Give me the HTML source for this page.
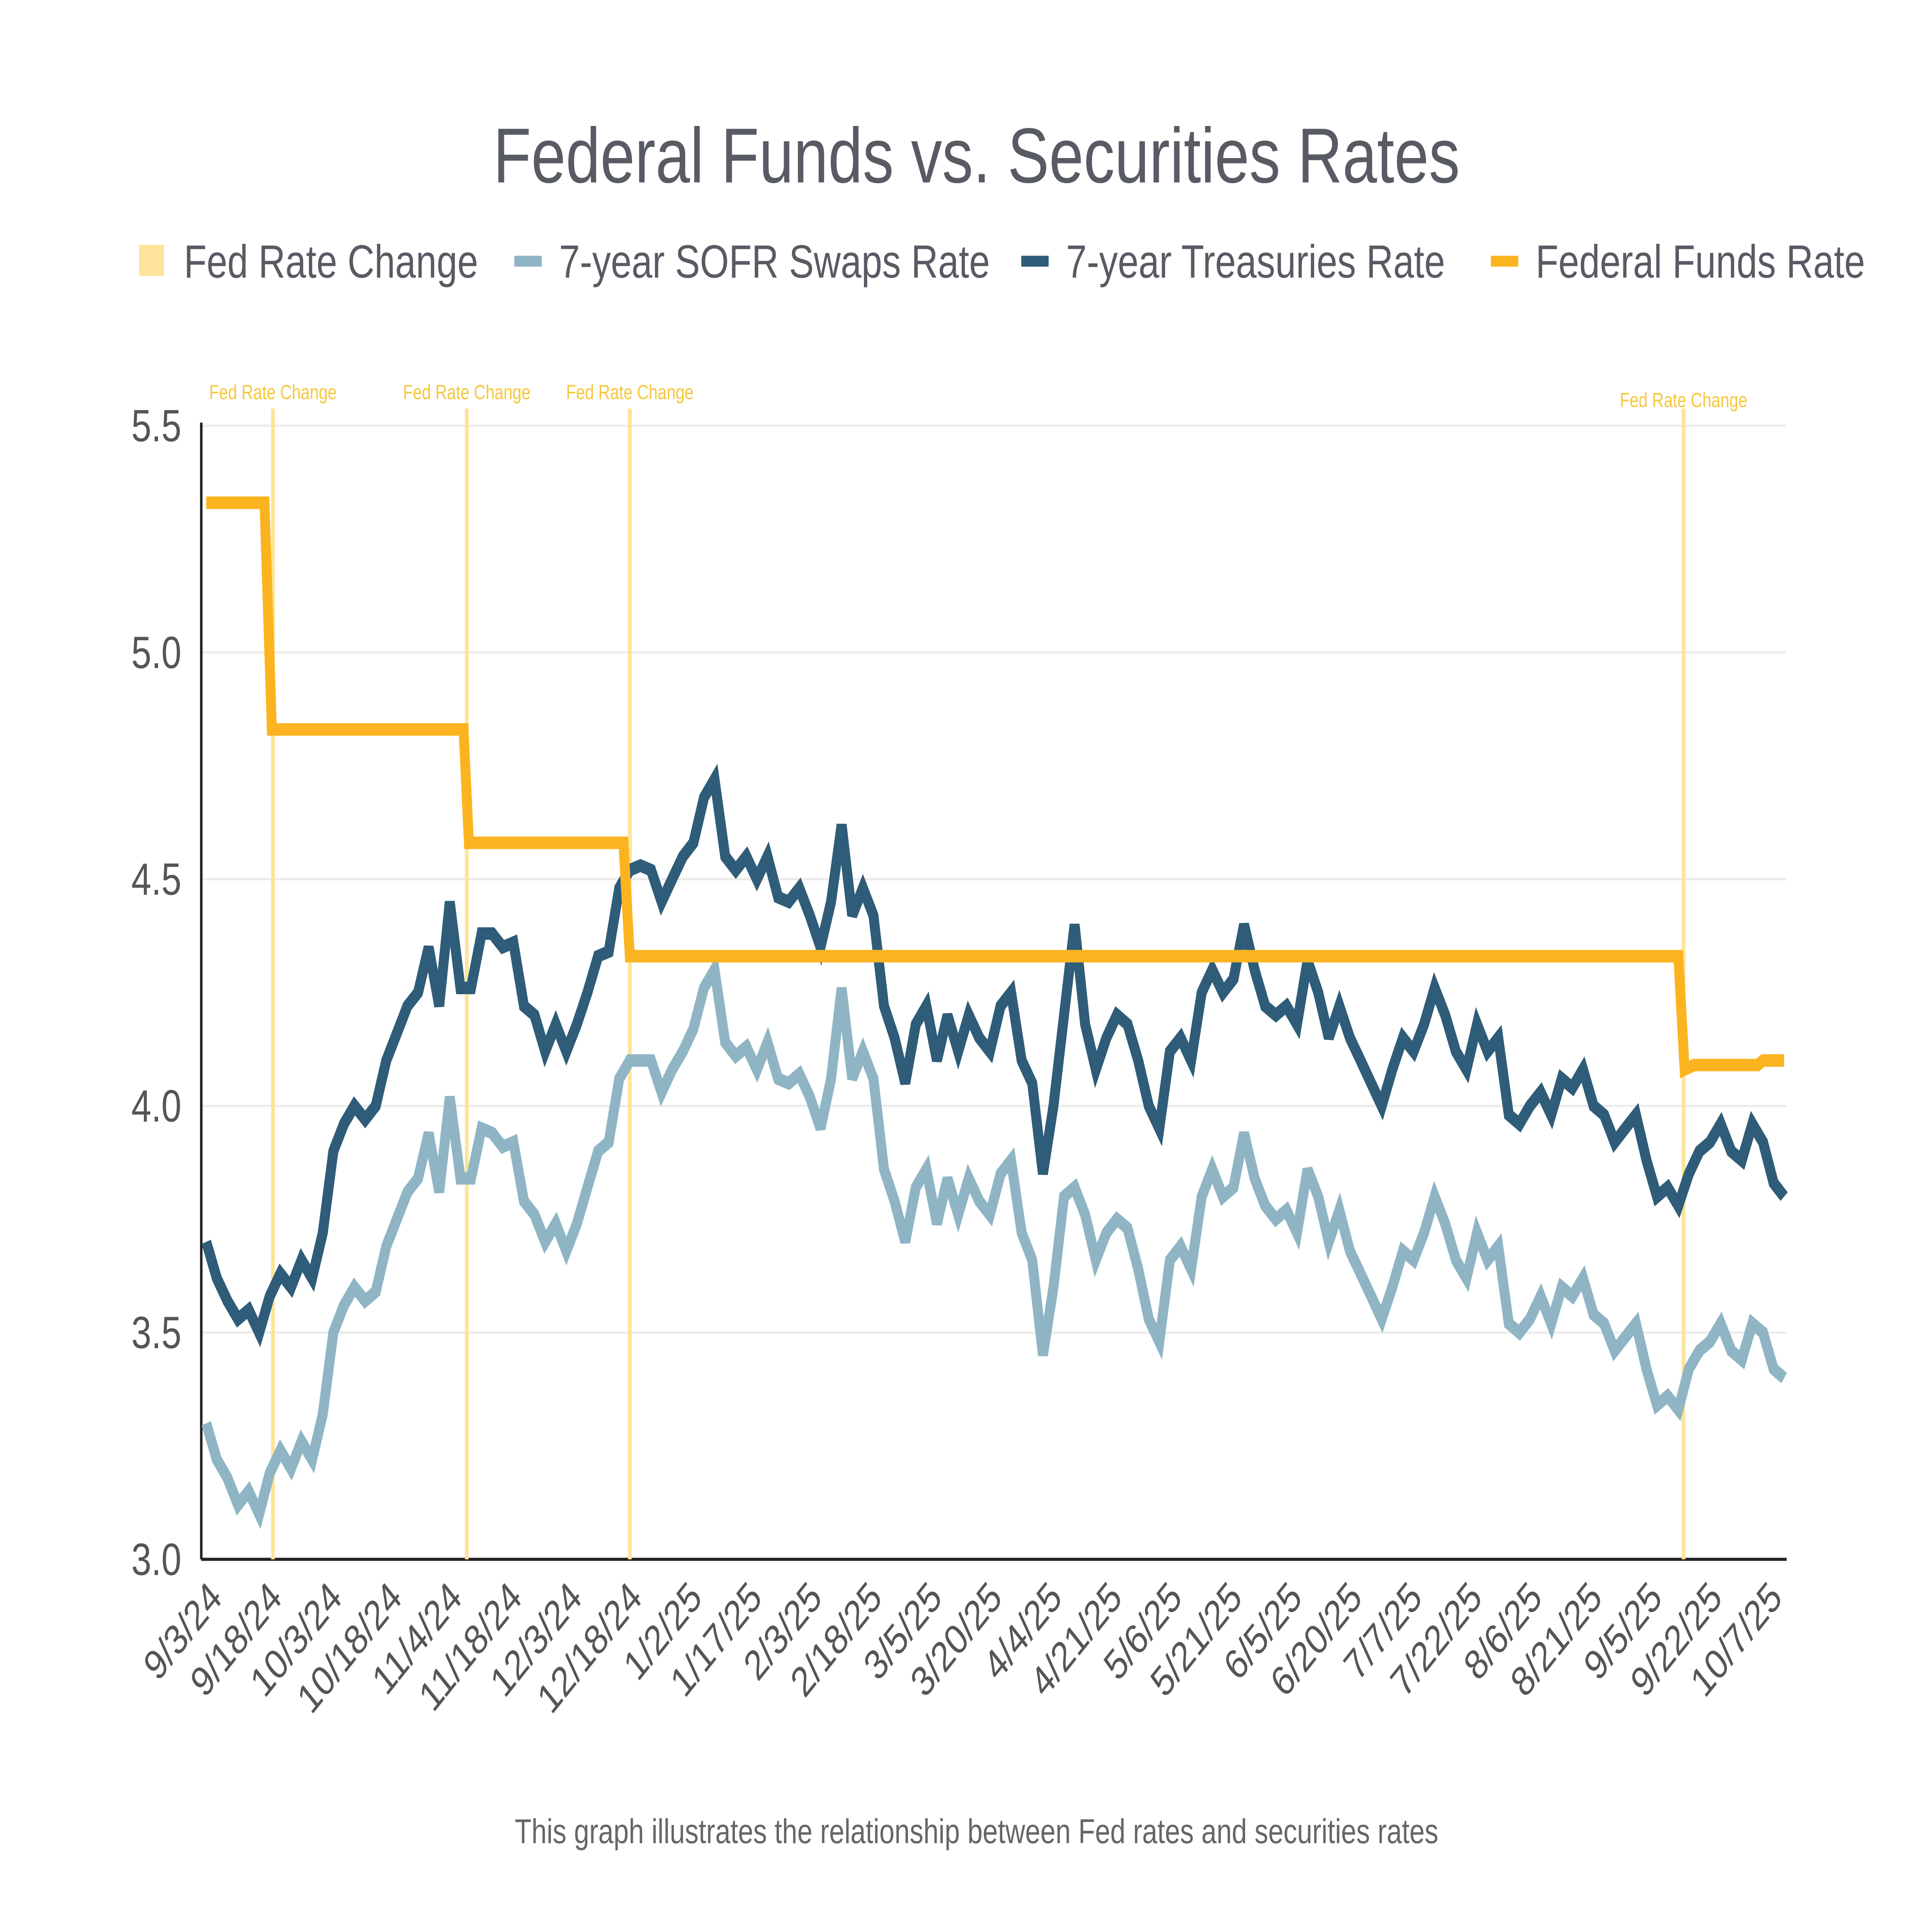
<!DOCTYPE html>
<html><head><meta charset="utf-8"><style>
html,body{margin:0;padding:0;background:#fff;width:100%;height:100%;overflow:hidden;}
svg{display:block;width:100vw;height:100vh;}
text{font-family:"Liberation Sans",sans-serif;}
</style></head><body>
<svg id="chart" viewBox="0 0 1555 1239" preserveAspectRatio="none" xmlns="http://www.w3.org/2000/svg">
<rect width="1555" height="1239" fill="#fff"/>
<text x="786" y="117" text-anchor="middle" font-size="50" fill="#585b63">Federal Funds vs. Securities Rates</text>
<g font-size="30" fill="#585b63">
 <g><rect x="112" y="157" width="20" height="20" fill="#fde49a"/><text x="148" y="178">Fed Rate Change</text></g>
 <g><rect x="414" y="164" width="22" height="7" fill="#8fb5c5"/><text x="450" y="178">7-year SOFR Swaps Rate</text></g>
 <g><rect x="822" y="164" width="22" height="7" fill="#2f5c78"/><text x="858" y="178">7-year Treasuries Rate</text></g>
 <g><rect x="1200" y="164" width="22" height="7" fill="#fbb41f"/><text x="1236" y="178">Federal Funds Rate</text></g>
</g>
<g id="grid"></g>
<g id="yaxis"></g>
<g id="xaxis"></g>
<g id="marks"></g>
<text x="786" y="1182" text-anchor="middle" font-size="22" fill="#666">This graph illustrates the relationship between Fed rates and securities rates</text>
</svg>
<script>
const yTicks = [3.0, 3.5, 4.0, 4.5, 5.0, 5.5];
const xLabels = ["9/3/24","9/18/24","10/3/24","10/18/24","11/4/24","11/18/24","12/3/24","12/18/24","1/2/25","1/17/25","2/3/25","2/18/25","3/5/25","3/20/25","4/4/25","4/21/25","5/6/25","5/21/25","6/5/25","6/20/25","7/7/25","7/22/25","8/6/25","8/21/25","9/5/25","9/22/25","10/7/25"];
const treasury = [3.70,3.62,3.57,3.53,3.55,3.50,
 3.58,3.63,3.60,3.66,3.62,
 3.72,3.90,3.96,4.00,3.97,
 4.00,4.10,4.16,4.22,4.25,
 4.35,4.22,4.45,4.26,
 4.26,4.38,4.38,4.35,4.36,
 4.22,4.20,4.12,4.18,4.12,
 4.18,4.25,4.33,4.34,4.48,
 4.52,4.53,4.52,4.45,4.50,
 4.55,4.58,4.68,4.72,4.55,
 4.52,4.55,4.50,4.55,4.46,
 4.45,4.48,4.42,4.35,4.45,
 4.62,4.42,4.48,4.42,4.22,
 4.15,4.05,4.18,4.22,4.10,
 4.20,4.12,4.20,4.15,4.12,
 4.22,4.25,4.10,4.05,3.85,
 4.00,4.20,4.40,4.18,4.08,
 4.15,4.20,4.18,4.10,4.00,
 3.95,4.12,4.15,4.10,4.25,
 4.30,4.25,4.28,4.40,4.30,
 4.22,4.20,4.22,4.18,4.32,
 4.25,4.15,4.22,4.15,4.10,
 4.05,4.00,4.08,4.15,4.12,
 4.18,4.26,4.20,4.12,4.08,
 4.18,4.12,4.15,3.98,3.96,
 4.00,4.03,3.98,4.06,4.04,
 4.08,4.00,3.98,3.92,3.95,
 3.98,3.88,3.80,3.82,3.78,
 3.85,3.90,3.92,3.96,3.90,
 3.88,3.96,3.92,3.83,3.80];
const sofr = [3.30,3.22,3.18,3.12,3.15,3.10,
 3.19,3.24,3.20,3.26,3.22,
 3.32,3.50,3.56,3.60,3.57,
 3.59,3.69,3.75,3.81,3.84,
 3.94,3.81,4.02,3.84,
 3.84,3.95,3.94,3.91,3.92,
 3.79,3.76,3.70,3.74,3.68,
 3.74,3.82,3.90,3.92,4.06,
 4.10,4.10,4.10,4.03,4.08,
 4.12,4.17,4.26,4.30,4.14,
 4.11,4.13,4.08,4.14,4.06,
 4.05,4.07,4.02,3.95,4.06,
 4.26,4.06,4.12,4.06,3.86,
 3.79,3.70,3.82,3.86,3.74,
 3.84,3.76,3.84,3.79,3.76,
 3.85,3.88,3.72,3.66,3.45,
 3.60,3.80,3.82,3.76,3.66,
 3.72,3.75,3.73,3.64,3.53,
 3.48,3.66,3.69,3.64,3.80,
 3.86,3.80,3.82,3.94,3.84,
 3.78,3.75,3.77,3.72,3.86,
 3.80,3.70,3.77,3.68,3.63,
 3.58,3.53,3.60,3.68,3.66,
 3.72,3.80,3.74,3.66,3.62,
 3.72,3.66,3.69,3.52,3.50,
 3.53,3.58,3.52,3.60,3.58,
 3.62,3.54,3.52,3.46,3.49,
 3.52,3.42,3.34,3.36,3.33,
 3.42,3.46,3.48,3.52,3.46,
 3.44,3.52,3.50,3.42,3.40];
const fedIdx = [0, 5.5, 6.2, 24.3, 24.8, 39.4, 40.0, 139.0, 139.6, 140.5, 146.5, 147, 149];
const fedVal = [5.33, 5.33, 4.83, 4.83, 4.58, 4.58, 4.33, 4.33, 4.08, 4.09, 4.09, 4.10, 4.10];
const changeIdx = [6.3, 24.6, 40.0, 139.5];

const NS = "http://www.w3.org/2000/svg";
const L = 162, R = 1438, T = 273, B = 1000, N = 150;
const yMin = 3.0, yMax = 5.5;
const ys = v => B - (v - yMin) / (yMax - yMin) * (B - T);
const xs = i => L + 4 + i * (R - L - 6) / (N - 1);
function mk(tag, attrs, parent) { const e = document.createElementNS(NS, tag); for (const k in attrs) e.setAttribute(k, attrs[k]); parent.appendChild(e); return e; }
const grid = document.getElementById('grid'), yax = document.getElementById('yaxis'), xax = document.getElementById('xaxis'), marks = document.getElementById('marks');

yTicks.forEach(v => {
  if (v > yMin) { const g = mk('line', {x1: L, x2: R, y1: ys(v), y2: ys(v), stroke: '#ececec', 'stroke-width': 1.5}, grid);
    
     }
  const t = mk('text', {x: 146, y: ys(v) + 10, 'text-anchor': 'end', 'font-size': 29, fill: '#555'}, yax);
  t.textContent = v.toFixed(1);
  
  
});
const ax1 = mk('line', {x1: L, x2: L, y1: T - 2, y2: B, stroke: '#222', 'stroke-width': 2}, yax);


const ax2 = mk('line', {x1: L, x2: R, y1: B, y2: B, stroke: '#222', 'stroke-width': 2}, xax);



const lblStep = 48.3;
xLabels.forEach((s, k) => {
  const x = 180 + k * lblStep;
  const t = mk('text', {x: x, y: 1026, 'text-anchor': 'end', 'font-size': 27, fill: '#555', transform: `rotate(-45 ${x} 1026)`}, xax);
  t.textContent = s;
  
  
});

changeIdx.forEach((ci, k) => {
  const x = xs(ci);
  const ln = mk('line', {x1: x, x2: x, y1: 262, y2: B, stroke: '#fde49a', 'stroke-width': 3}, marks);
  
  
  const t = mk('text', {x: x, y: k === 3 ? 261 : 256, 'text-anchor': 'middle', 'font-size': 13, fill: '#f7c63c'}, marks);
  t.textContent = 'Fed Rate Change';
  
  
});

function line(vals, idxs, color, name) {
  const d = vals.map((v, i) => (i ? 'L' : 'M') + xs(idxs ? idxs[i] : i).toFixed(1) + ' ' + ys(v).toFixed(1)).join(' ');
  const p = mk('path', {d: d, fill: 'none', stroke: color, 'stroke-width': 8, 'stroke-linejoin': 'miter', 'stroke-miterlimit': 3}, marks);
  
  
}
line(sofr, null, '#8fb5c5', 'sofr-line');
line(treasury, null, '#2f5c78', 'treasuries-line');
line(fedVal, fedIdx, '#fbb41f', 'fed-funds-line');
</script>
</body></html>
